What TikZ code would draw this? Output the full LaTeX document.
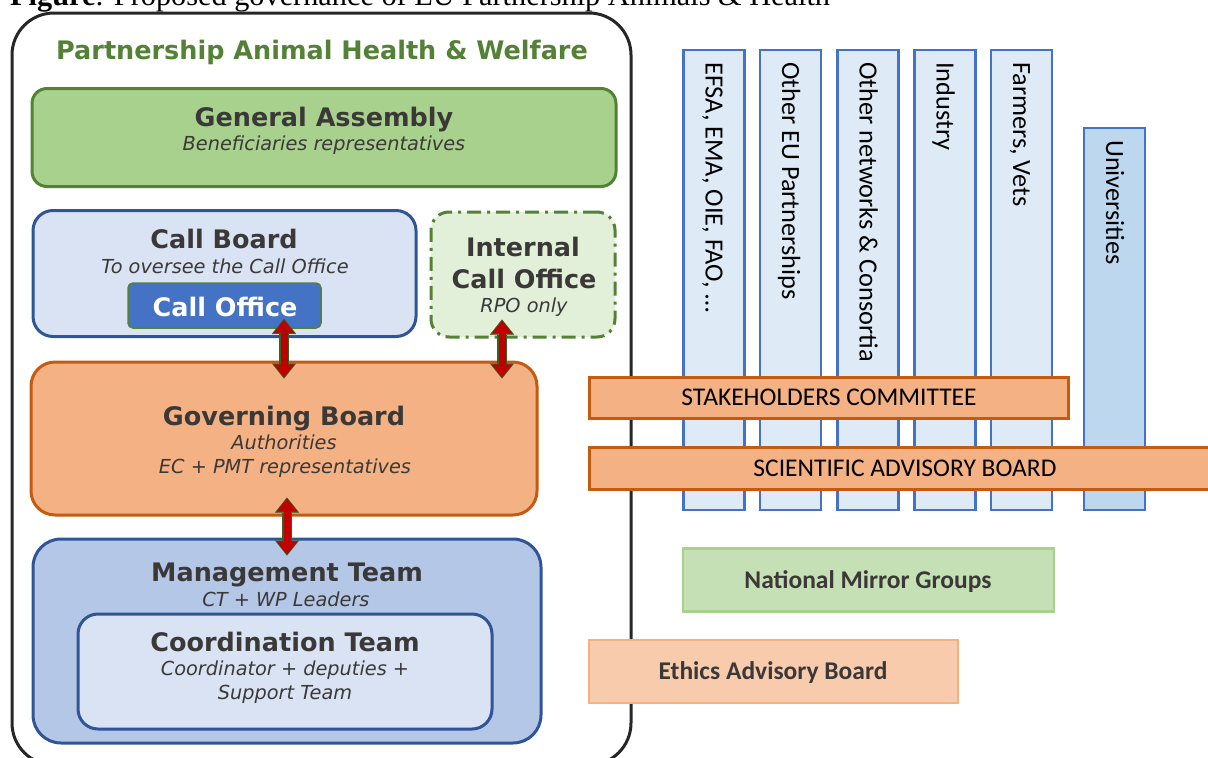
\documentclass[tikz,border=0pt]{standalone}
\usepackage{fontspec}
\usetikzlibrary{arrows.meta,calc}
\newfontfamily\vfont{DejaVu Sans}
\newfontfamily\cfont{Carlito}
\newfontfamily\sfont{Liberation Serif}
\definecolor{framec}{HTML}{262626}
\definecolor{titlegreen}{HTML}{538135}
\definecolor{gafill}{HTML}{A9D18E}
\definecolor{gadraw}{HTML}{548235}
\definecolor{lbluefill}{HTML}{DAE3F3}
\definecolor{dblue}{HTML}{2F5597}
\definecolor{midblue}{HTML}{4472C4}
\definecolor{icofill}{HTML}{E2F0D9}
\definecolor{orfill}{HTML}{F4B183}
\definecolor{ordraw}{HTML}{C55A11}
\definecolor{mtfill}{HTML}{B4C7E7}
\definecolor{arrowred}{HTML}{C00000}
\definecolor{arrowgreen}{HTML}{3A5F23}
\definecolor{colfill}{HTML}{DEEBF7}
\definecolor{unifill}{HTML}{BDD7EE}
\definecolor{nmgfill}{HTML}{C5E0B4}
\definecolor{ethfill}{HTML}{F8CBAD}
\definecolor{txt}{HTML}{3B3838}
\tikzset{
  lbox/.style={rectangle, inner sep=0pt, line width=3pt},
  colbox/.style={rectangle, inner sep=0pt, line width=2.5pt, draw=midblue, fill=colfill, minimum width=61pt},
  hd/.style={anchor=base, inner sep=0pt, text=txt, font=\vfont\bfseries\fontsize{25.5}{30}\selectfont},
  it/.style={anchor=base, inner sep=0pt, text=txt, font=\vfont\itshape\fontsize{19.3}{23}\selectfont},
  ctext/.style={anchor=base, inner sep=0pt, text=black, font=\cfont\fontsize{25.5}{30}\selectfont},
  coltext/.style={anchor=base west, rotate=-90, inner sep=0pt, text=black, font=\cfont\fontsize{26.3}{30}\selectfont},
  arrowout/.style={draw=arrowgreen, line width=10pt,
     {Triangle[length=15pt,width=24pt,line width=0.01pt]}-{Triangle[length=15pt,width=24pt,line width=0.01pt]}},
  arrowin/.style={draw=arrowred, line width=7pt,
     {Triangle[length=12.5pt,width=20pt,line width=0.01pt]}-{Triangle[length=12.5pt,width=20pt,line width=0.01pt]}}
}
\begin{document}
\begin{tikzpicture}[x=1pt,y=-1pt]
\useasboundingbox (0,0) rectangle (1208,758);
\clip (0,0) rectangle (1208,758);

% caption (top cut off, as in the reference)
\node[anchor=base west, inner sep=0pt, font=\sfont\fontsize{30.3}{36}\selectfont] (caption) at (10,5.5)
  {\textbf{Figure}: Proposed governance of EU Partnership Animals \& Health};

% outer frame
\node[lbox, draw=framec, rounded corners=42pt, minimum width=619pt, minimum height=752pt] (frame) at (321.5,389) {};
\node[hd, text=titlegreen] (title) at (322,59) {Partnership Animal Health \& Welfare};

% General Assembly
\node[lbox, draw=gadraw, fill=gafill, rounded corners=15pt, minimum width=584pt, minimum height=98pt] (ga) at (324,137.5) {};
\node[hd] (gat) at (324,126) {General Assembly};
\node[it] (gas) at (324,150.5) {Beneficiaries representatives};

% Call Board
\node[lbox, draw=dblue, fill=lbluefill, rounded corners=20pt, minimum width=383pt, minimum height=126pt] (cb) at (224.5,273.5) {};
\node[hd] (cbt) at (224,248) {Call Board};
\node[it] (cbs) at (225,273.5) {To oversee the Call Office};
\node[rectangle, inner sep=0pt, line width=1.5pt, draw=gadraw, fill=midblue, rounded corners=5pt, minimum width=193pt, minimum height=45pt] (co) at (224.5,305.5) {};
\node[hd, text=white] (cot) at (225,316) {Call Office};

% Internal Call Office
\node[lbox, draw=gadraw, fill=icofill, rounded corners=18pt, minimum width=184pt, minimum height=125pt,
      dash pattern=on 14pt off 6pt on 3pt off 6pt] (ico) at (523,274.5) {};
\node[hd] (icot1) at (523,256) {Internal};
\node[hd] (icot2) at (524,288) {Call Office};
\node[it] (icos) at (524,312.5) {RPO only};

% Governing Board
\node[lbox, draw=ordraw, fill=orfill, rounded corners=24pt, minimum width=506pt, minimum height=153pt] (gb) at (284,438.5) {};
\node[hd] (gbt) at (284,425) {Governing Board};
\node[it] (gbs1) at (284,449.5) {Authorities};
\node[it] (gbs2) at (285,473.5) {EC + PMT representatives};

% Management Team
\node[lbox, draw=dblue, fill=mtfill, rounded corners=28pt, minimum width=508pt, minimum height=204pt] (mt) at (287,641) {};
\node[hd] (mtt) at (287,581) {Management Team};
\node[it] (mts) at (286,606.5) {CT + WP Leaders};
\node[lbox, draw=dblue, fill=lbluefill, rounded corners=20pt, minimum width=414pt, minimum height=115pt] (ct) at (285,671.5) {};
\node[hd] (ctt) at (285,651) {Coordination Team};
\node[it] (cts1) at (285,675.5) {Coordinator + deputies +};
\node[it] (cts2) at (285,699.5) {Support Team};

% arrows
\draw[arrowout, shorten <=-10pt, shorten >=-18pt] (gb.north |- co.south) -- (gb.north);
\draw[arrowin, shorten <=-8.6pt, shorten >=-16.6pt] (gb.north |- co.south) -- (gb.north);
\draw[arrowout, shorten <=-19pt, shorten >=-18pt] ([xshift=-21pt]ico.south) -- ([xshift=-21pt]ico.south |- gb.north);
\draw[arrowin, shorten <=-17.6pt, shorten >=-16.6pt] ([xshift=-21pt]ico.south) -- ([xshift=-21pt]ico.south |- gb.north);
\draw[arrowout, shorten <=-19pt, shorten >=-18pt] (mt.north |- gb.south) -- (mt.north);
\draw[arrowin, shorten <=-17.6pt, shorten >=-16.6pt] (mt.north |- gb.south) -- (mt.north);

% stakeholder columns
\node[colbox, minimum height=460pt] (c1) at (714,280) {};
\node[colbox, minimum height=460pt] (c2) at (790.5,280) {};
\node[colbox, minimum height=460pt] (c3) at (868,280) {};
\node[colbox, minimum height=460pt] (c4) at (945,280) {};
\node[colbox, minimum height=460pt] (c5) at (1021.5,280) {};
\node[colbox, fill=unifill, minimum height=382pt] (c6) at (1114.5,319) {};
\node[coltext] (c1t) at (705.5,62) {EFSA, EMA, OIE, FAO, …};
\node[coltext] (c2t) at (782,62) {Other EU Partnerships};
\node[coltext] (c3t) at (859.5,62) {Other networks \& Consortia};
\node[coltext] (c4t) at (936.5,62) {Industry};
\node[coltext] (c5t) at (1013,62) {Farmers, Vets};
\node[coltext] (c6t) at (1106,140) {Universities};

% committees
\node[rectangle, inner sep=0pt, line width=3pt, draw=ordraw, fill=orfill, minimum width=479pt, minimum height=41pt] (sc) at (828.5,397.5) {};
\node[ctext] (sct) at (829,405.5) {STAKEHOLDERS COMMITTEE};
\node[rectangle, inner sep=0pt, line width=3pt, draw=ordraw, fill=orfill, minimum width=633pt, minimum height=42pt] (sab) at (905.5,468) {};
\node[ctext] (sabt) at (905,476) {SCIENTIFIC ADVISORY BOARD};
\node[rectangle, inner sep=0pt, line width=2.5pt, draw=gafill, fill=nmgfill, minimum width=371pt, minimum height=63pt] (nmg) at (868.5,580) {};
\node[ctext, text=txt, font=\cfont\bfseries\fontsize{25.5}{30}\selectfont] (nmgt) at (868,588) {National Mirror Groups};
\node[rectangle, inner sep=0pt, line width=2.5pt, draw=orfill, fill=ethfill, minimum width=369pt, minimum height=63pt] (eth) at (773.5,671.5) {};
\node[ctext, text=txt, font=\cfont\bfseries\fontsize{25.5}{30}\selectfont] (etht) at (773,679.5) {Ethics Advisory Board};
\end{tikzpicture}
\end{document}
